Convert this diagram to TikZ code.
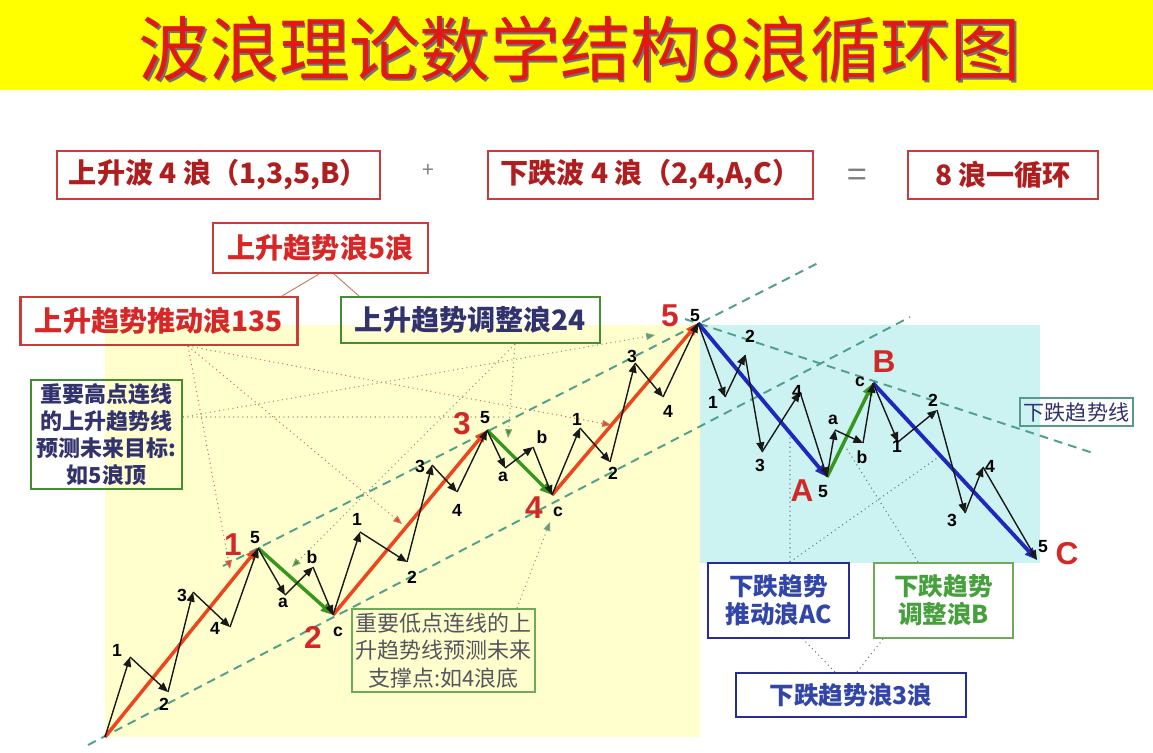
\documentclass[tikz,border=0pt]{standalone}
\usepackage{fontspec}
\setmainfont{Noto Sans CJK SC}
\newfontfamily\latfont{Liberation Sans}
\usetikzlibrary{arrows.meta}
\definecolor{titleyellow}{RGB}{255,255,0}
\definecolor{titlered}{RGB}{225,25,20}
\definecolor{boxred}{RGB}{200,60,60}
\definecolor{txtred}{RGB}{175,30,30}
\definecolor{brightred}{RGB}{215,40,40}
\definecolor{boxgreen}{RGB}{70,140,50}
\definecolor{lightgreen}{RGB}{110,170,90}
\definecolor{txtnavy}{RGB}{50,50,110}
\definecolor{txtgray}{RGB}{85,85,95}
\definecolor{boxblue}{RGB}{40,45,150}
\definecolor{txtblue}{RGB}{50,70,170}
\definecolor{txtgreen}{RGB}{70,160,60}
\definecolor{areayellow}{RGB}{255,255,205}
\definecolor{areacyan}{RGB}{205,242,242}
\definecolor{trendteal}{RGB}{80,160,140}
\definecolor{waveorange}{RGB}{235,70,30}
\definecolor{wavegreen}{RGB}{55,150,30}
\definecolor{waveblue}{RGB}{30,40,190}
\definecolor{bigred}{RGB}{210,40,40}
\definecolor{hintred}{RGB}{200,115,95}
\definecolor{hintgreen}{RGB}{130,160,120}
\definecolor{hintblue}{RGB}{100,120,150}

\begin{document}
\begin{tikzpicture}[
    x=0.02cm, y=-0.02cm,
    >=Stealth,
    upwave/.style={-{Triangle[length=7pt,width=5.5pt]}, line width=2pt, waveorange},
    corrwave/.style={-{Triangle[length=7pt,width=5.5pt]}, line width=2pt, wavegreen},
    downwave/.style={-{Triangle[length=7pt,width=5.5pt]}, line width=2.2pt, waveblue},
    sub/.style={-{Triangle[length=5.5pt,width=4.5pt]}, line width=0.8pt, black!90},
    trend/.style={dash pattern=on 5pt off 3.5pt, line width=1.1pt, trendteal},
    hint/.style={dotted, line width=0.6pt},
    lab/.style={font=\latfont\bfseries\fontsize{10}{10}\selectfont, inner sep=0pt},
    biglab/.style={font=\latfont\bfseries\fontsize{18}{18}\selectfont, text=bigred, inner sep=0pt},
    topbox/.style={draw=boxred, line width=1.2pt, text=txtred, inner sep=0pt,
        font=\bfseries\fontsize{16}{18}\selectfont},
    redbox/.style={draw=boxred, line width=1.2pt, text=brightred, inner sep=0pt,
        font=\bfseries\fontsize{16}{18}\selectfont},
    greenbox/.style={draw=boxgreen, line width=1.2pt, text=txtnavy, inner sep=0pt,
        font=\bfseries\fontsize{16}{18}\selectfont},
    notebox/.style={draw=boxgreen, line width=1pt, text=txtnavy, inner sep=0pt, align=center,
        font=\bfseries\fontsize{12.5}{15.3}\selectfont},
    lowbox/.style={draw=lightgreen, line width=1pt, text=txtgray, inner sep=0pt, align=center,
        font=\fontsize{12.5}{15.5}\selectfont},
    bluebox/.style={draw=boxblue, line width=1.2pt, text=txtblue, inner sep=0pt, align=center,
        font=\bfseries\fontsize{14}{16}\selectfont},
    lgreenbox/.style={draw=lightgreen, line width=1.2pt, text=txtgreen, inner sep=0pt, align=center,
        font=\bfseries\fontsize{14}{16}\selectfont},
    linebox/.style={draw=trendteal!80!gray, line width=1pt, text=txtnavy, inner sep=0pt,
        font=\fontsize{12}{13}\selectfont},
]

\useasboundingbox (0,0) rectangle (1153,752);
\fill[white] (0,0) rectangle (1153,752);

%============================================================
% Title band
%============================================================
\fill[titleyellow] (0,0) rectangle (1153,90);
\node[font=\fontsize{40}{41}\selectfont, text=black!55] (titleshadow) at (581.5,50.5) {波浪理论数学结构8浪循环图};
\node[font=\fontsize{40}{41}\selectfont, text=titlered] (title) at (580,49) {波浪理论数学结构8浪循环图};

%============================================================
% Summary row
%============================================================
\node[topbox, minimum width=6.46cm, minimum height=0.96cm] (upsum) at (218.5,175) {上升波 4 浪（1,3,5,B）};
\node[font=\fontsize{12}{12}\selectfont, text=gray] (plus) at (428,171) {+};
\node[topbox, minimum width=6.5cm, minimum height=0.96cm] (downsum) at (650.5,175) {下跌波 4 浪（2,4,A,C）};
\node[font=\fontsize{20}{20}\selectfont, text=gray] (equal) at (857,178) {=};
\node[topbox, minimum width=3.8cm, minimum height=0.96cm] (cycle) at (1003,175) {8 浪一循环};

%============================================================
% Background areas
%============================================================
\fill[areayellow] (105,325) rectangle (700,737);
\fill[areacyan] (700,325) rectangle (1040,563);

%============================================================
% Wave points
%============================================================
% rising leg
\coordinate (o) at (105,737);
\coordinate (u1a) at (130,657); \coordinate (u1b) at (168,692);
\coordinate (u1c) at (193,592); \coordinate (u1d) at (230,627);
\coordinate (u1) at (258,548);
\coordinate (u2a) at (285,595); \coordinate (u2b) at (313,567);
\coordinate (u2) at (333,615);
\coordinate (u3a) at (360,532); \coordinate (u3b) at (407,562);
\coordinate (u3c) at (432,465); \coordinate (u3d) at (457,492);
\coordinate (u3) at (487,430);
\coordinate (u4a) at (505,468); \coordinate (u4b) at (533,447);
\coordinate (u4) at (552,495);
\coordinate (u5a) at (580,428); \coordinate (u5b) at (610,462);
\coordinate (u5c) at (635,363); \coordinate (u5d) at (663,397);
\coordinate (u5) at (698,323);
% falling leg
\coordinate (dAa) at (725,397); \coordinate (dAb) at (745,355);
\coordinate (dAc) at (762,452); \coordinate (dAd) at (800,392);
\coordinate (dA) at (827,477);
\coordinate (dBa) at (835,430); \coordinate (dBb) at (863,443);
\coordinate (dB) at (873,383);
\coordinate (dCa) at (898,442); \coordinate (dCb) at (937,410);
\coordinate (dCc) at (965,513); \coordinate (dCd) at (983,467);
\coordinate (dC) at (1037,560);

%============================================================
% Trend lines
%============================================================
\coordinate (hiS) at (223,566); \coordinate (hiE) at (820,262);
\coordinate (loS) at (88,745);  \coordinate (loE) at (910,317);
\coordinate (dnS) at (685,319); \coordinate (dnE) at (1093,453);
\draw[trend] (hiS) -- (hiE);
\draw[trend] (loS) -- (loE);
\draw[trend] (dnS) -- (dnE);

%============================================================
% Boxes
%============================================================
\node[redbox, minimum width=4.3cm, minimum height=1.0cm] (rise) at (320.5,248) {上升趋势浪5浪};
\node[redbox, minimum width=5.54cm, minimum height=0.96cm] (push) at (159,321) {上升趋势推动浪135};
\node[greenbox, minimum width=5.18cm, minimum height=0.92cm] (corr) at (470.5,320) {上升趋势调整浪24};
\node[notebox, minimum width=3.02cm, minimum height=2.18cm] (high) at (106.5,434.5)
    {重要高点连线\\的上升趋势线\\预测未来目标:\\如5浪顶};
\node[lowbox, minimum width=3.66cm, minimum height=1.66cm] (low) at (443.5,650.5)
    {重要低点连线的上\\升趋势线预测未来\\支撑点:如4浪底};
\node[bluebox, minimum width=2.82cm, minimum height=1.5cm] (fallpush) at (778.5,600.5) {下跌趋势\\推动浪AC};
\node[lgreenbox, minimum width=2.78cm, minimum height=1.5cm] (fallcorr) at (943.5,600.5) {下跌趋势\\调整浪B};
\node[bluebox, minimum width=4.6cm, minimum height=0.88cm] (fall) at (851,695) {下跌趋势浪3浪};
\node[linebox, minimum width=2.26cm, minimum height=0.56cm] (fallline) at (1076.5,412) {下跌趋势线};

%============================================================
% Hint lines
%============================================================
\coordinate (tp1) at (230,569); \coordinate (tp3) at (402,524); \coordinate (tp5) at (611,425);
\coordinate (tc2) at (292,567); \coordinate (tc4) at (508,438);
\coordinate (th1) at (655,335); \coordinate (th2) at (505,417);
\coordinate (tl) at (550,522);
\coordinate (tdA) at (790,437); \coordinate (tdC) at (940,456); \coordinate (tdB) at (845,446);

\draw[hintred, line width=0.5pt] ([xshift=-0.03cm]rise.south) -- ([xshift=2.46cm]push.north);
\draw[hintred, line width=0.5pt] ([xshift=0.27cm]rise.south) -- ([xshift=-2.23cm]corr.north);

\draw[hint, hintred, -{Triangle[length=5pt,width=4pt,fill=waveorange]}] ([xshift=0.58cm]push.south) -- (tp1);
\draw[hint, hintred, -{Triangle[length=5pt,width=4pt,fill=waveorange]}] ([xshift=0.58cm]push.south) -- (tp3);
\draw[hint, hintred, -{Triangle[length=5pt,width=4pt,fill=waveorange]}] ([xshift=0.58cm]push.south) -- (tp5);

\draw[hint, hintgreen, -{Triangle[length=5pt,width=4pt,fill=wavegreen]}] ([xshift=0.89cm]corr.south) -- (tc2);
\draw[hint, hintgreen, -{Triangle[length=5pt,width=4pt,fill=wavegreen]}] ([xshift=0.89cm]corr.south) -- (tc4);

\draw[hint, hintgreen, -{Triangle[length=5pt,width=4pt,fill=trendteal]}] ([yshift=0.35cm]high.east) -- (th1);
\draw[hint, hintgreen] ([yshift=0.35cm]high.east) -- (th2);

\draw[hint, hintgreen, -{Triangle[length=5pt,width=4pt,fill=trendteal]}] ([xshift=1.47cm]low.north) -- (tl);

\draw[hint, hintblue] ([xshift=0.23cm]fallpush.north) -- (tdA);
\draw[hint, hintblue] ([xshift=0.23cm]fallpush.north) -- (tdC);
\draw[hint, hintblue] ([xshift=-0.51cm]fallcorr.north) -- (tdB);
\draw[hint, hintblue] ([xshift=-0.32cm]fall.north) -- ([xshift=0.49cm]fallpush.south);
\draw[hint, hintblue] ([xshift=0.12cm]fall.north) -- ([xshift=-1.21cm]fallcorr.south);

%============================================================
% Main waves
%============================================================
\draw[upwave] (o) -- (u1);
\draw[corrwave] (u1) -- (u2);
\draw[upwave] (u2) -- (u3);
\draw[corrwave] (u3) -- (u4);
\draw[upwave] (u4) -- (u5);
\draw[downwave] (u5) -- (dA);
\draw[corrwave] (dA) -- (dB);
\draw[downwave] (dB) -- (dC);

%============================================================
% Sub waves
%============================================================
\draw[sub] (o) -- (u1a);   \draw[sub] (u1a) -- (u1b); \draw[sub] (u1b) -- (u1c);
\draw[sub] (u1c) -- (u1d); \draw[sub] (u1d) -- (u1);
\draw[sub] (u1) -- (u2a);  \draw[sub] (u2a) -- (u2b); \draw[sub] (u2b) -- (u2);
\draw[sub] (u2) -- (u3a);  \draw[sub] (u3a) -- (u3b); \draw[sub] (u3b) -- (u3c);
\draw[sub] (u3c) -- (u3d); \draw[sub] (u3d) -- (u3);
\draw[sub] (u3) -- (u4a);  \draw[sub] (u4a) -- (u4b); \draw[sub] (u4b) -- (u4);
\draw[sub] (u4) -- (u5a);  \draw[sub] (u5a) -- (u5b); \draw[sub] (u5b) -- (u5c);
\draw[sub] (u5c) -- (u5d); \draw[sub] (u5d) -- (u5);
\draw[sub] (u5) -- (dAa);  \draw[sub] (dAa) -- (dAb); \draw[sub] (dAb) -- (dAc);
\draw[sub] (dAc) -- (dAd); \draw[sub] (dAd) -- (dA);
\draw[sub] (dA) -- (dBa);  \draw[sub] (dBa) -- (dBb); \draw[sub] (dBb) -- (dB);
\draw[sub] (dB) -- (dCa);  \draw[sub] (dCa) -- (dCb); \draw[sub] (dCb) -- (dCc);
\draw[sub] (dCc) -- (dCd); \draw[sub] (dCd) -- (dC);

%============================================================
% Sub wave labels
%============================================================
\node[lab] (l1a) at (117,650) {1}; \node[lab] (l1b) at (164,704) {2}; \node[lab] (l1c) at (182,595) {3};
\node[lab] (l1d) at (215,628) {4}; \node[lab] (l1e) at (255,538) {5};
\node[lab] (l2a) at (283,603) {a}; \node[lab] (l2b) at (312,557) {b}; \node[lab] (l2c) at (338,632) {c};
\node[lab] (l3a) at (357,519) {1}; \node[lab] (l3b) at (412,577) {2}; \node[lab] (l3c) at (420,466) {3};
\node[lab] (l3d) at (457,510) {4}; \node[lab] (l3e) at (485,418) {5};
\node[lab] (l4a) at (503,477) {a}; \node[lab] (l4b) at (542,437) {b}; \node[lab] (l4c) at (558,512) {c};
\node[lab] (l5a) at (577,419) {1}; \node[lab] (l5b) at (613,473) {2}; \node[lab] (l5c) at (632,356) {3};
\node[lab] (l5d) at (668,411) {4}; \node[lab] (l5e) at (695,316) {5};
\node[lab] (lAa) at (713,402) {1}; \node[lab] (lAb) at (750,336) {2}; \node[lab] (lAc) at (760,465) {3};
\node[lab] (lAd) at (797,391) {4}; \node[lab] (lAe) at (823,492) {5};
\node[lab] (lBa) at (833,420) {a}; \node[lab] (lBb) at (862,457) {b}; \node[lab] (lBc) at (860,382) {c};
\node[lab] (lCa) at (897,446) {1}; \node[lab] (lCb) at (933,400) {2}; \node[lab] (lCc) at (952,520) {3};
\node[lab] (lCd) at (990,466) {4}; \node[lab] (lCe) at (1043,547) {5};

%============================================================
% Main wave labels
%============================================================
\node[biglab] (L1) at (233,545) {1};
\node[biglab] (L2) at (313,637) {2};
\node[biglab] (L3) at (462,424) {3};
\node[biglab] (L4) at (534,508) {4};
\node[biglab] (L5) at (670,316) {5};
\node[biglab] (LA) at (802,491) {A};
\node[biglab] (LB) at (884,362) {B};
\node[biglab] (LC) at (1067,554) {C};

\end{tikzpicture}
\end{document}
